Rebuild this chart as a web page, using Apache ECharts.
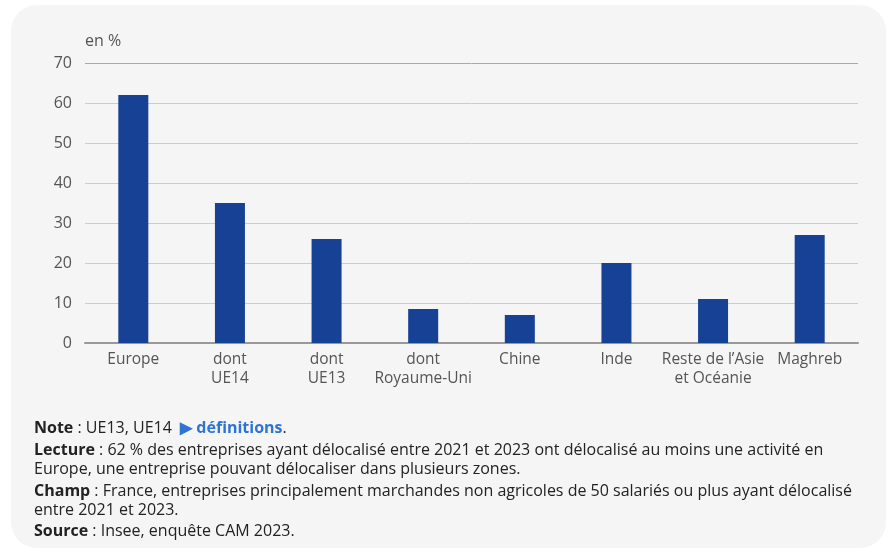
<!DOCTYPE html>
<html>
<head>
<meta charset="utf-8">
<script src="https://cdn.jsdelivr.net/npm/echarts@6/dist/echarts.min.js"></script>
<style>
  html, body { margin: 0; padding: 0; background: #fff; }
  #chart { width: 892px; height: 550px; }
</style>
</head>
<body>
<div id="chart"></div>
<script>
const categories = ['Europe', 'dont\nUE14', 'dont\nUE13', 'dont\nRoyaume-Uni', 'Chine', 'Inde', 'Reste de l\u2019Asie\net Océanie', 'Maghreb'];
const values = [62, 35, 26, 8.5, 7, 20, 11, 27];

const notes = [
  '{b|Note} : UE13, UE14  {link|\u25B6 définitions}.',
  '{b|Lecture} : 62 % des entreprises ayant délocalisé entre 2021 et 2023 ont délocalisé au moins une activité en',
  'Europe, une entreprise pouvant délocaliser dans plusieurs zones.',
  '{b|Champ} : France, entreprises principalement marchandes non agricoles de 50 salariés ou plus ayant délocalisé',
  'entre 2021 et 2023.',
  '{b|Source} : Insee, enquête CAM 2023.'
];
const noteY = [428, 450, 469, 491, 510, 531];

const font = '"Open Sans", "Noto Sans", sans-serif';

const chart = echarts.init(document.getElementById('chart'));

// card background + footnotes
const graphics = [{
  type: 'rect',
  z: -10,
  shape: { x: 11, y: 5, width: 875, height: 543, r: 26 },
  style: { fill: '#f5f5f5' }
}];
notes.forEach((t, i) => {
  graphics.push({
    type: 'text',
    x: 34,
    y: noteY[i],
    style: {
      text: t,
      fontFamily: font,
      fontSize: 16,
      fill: '#222',
      verticalAlign: 'middle',
      rich: {
        b: { fontWeight: 'bold', fontSize: 16, fontFamily: font, fill: '#222' },
        link: { fontWeight: 'bold', fontSize: 16, fontFamily: font, fill: '#2e74d6' }
      }
    }
  });
});

chart.setOption({
  animation: false,
  textStyle: { fontFamily: font },
  grid: { left: 85, right: 34, top: 63, bottom: 207 },
  graphic: graphics,
  xAxis: {
    type: 'category',
    data: categories,
    axisLine: { lineStyle: { color: '#999', width: 2 } },
    axisTick: { show: false },
    axisLabel: {
      color: '#555',
      fontSize: 15.5,
      lineHeight: 19,
      margin: 7,
      interval: 0
    }
  },
  yAxis: {
    type: 'value',
    min: 0,
    max: 70,
    interval: 10,
    name: 'en %',
    nameLocation: 'end',
    nameGap: 14,
    nameTextStyle: { color: '#555', fontSize: 16, align: 'left' },
    axisLine: { show: false },
    axisTick: { show: false },
    axisLabel: { color: '#555', fontSize: 16, margin: 13 },
    splitLine: {
      lineStyle: {
        color: ['#ccc', '#ccc', '#ccc', '#ccc', '#ccc', '#ccc', '#ccc', '#aaa'],
        width: 1
      }
    }
  },
  series: [{
    type: 'bar',
    data: values,
    barWidth: 30,
    itemStyle: { color: '#164194' }
  }]
});
</script>
</body>
</html>
